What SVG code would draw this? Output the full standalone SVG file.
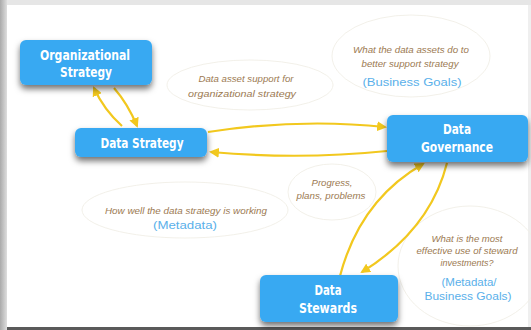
<svg xmlns="http://www.w3.org/2000/svg" width="531" height="330" viewBox="0 0 531 330">
<defs>
<linearGradient id="lg" x1="0" x2="1" y1="0" y2="0"><stop offset="0" stop-color="#aaaaaa"/><stop offset="1" stop-color="#dedede"/></linearGradient>
<filter id="sh" x="-20%" y="-30%" width="140%" height="180%"><feDropShadow dx="0" dy="4" stdDeviation="3" flood-color="#000" flood-opacity="0.55"/></filter>
<marker id="ah" viewBox="0 0 10 10" refX="8" refY="5" markerWidth="4.5" markerHeight="4.5" orient="auto-start-reverse"><path d="M0,0 L10,5 L0,10 Z" fill="#f2c81e"/></marker>
<style>
.box{fill:#38a9f2;filter:url(#sh)}
.bt{fill:#fff;font-family:"DejaVu Sans Condensed","DejaVu Sans",sans-serif;font-weight:bold;font-size:14px;text-anchor:middle}
.lab{fill:#9c7a52;font-family:"Liberation Sans",Arial,sans-serif;font-style:italic;font-size:9.5px;text-anchor:middle}
.blu{fill:#5ab0ea;font-family:"Liberation Sans",Arial,sans-serif;font-size:11.5px;text-anchor:middle}
.ell{fill:none;stroke:#f1eee7;stroke-width:0.9}
.c{fill:none;stroke:#f2c81e;stroke-width:2.2;marker-end:url(#ah)}
</style>
</defs>
<rect width="531" height="330" fill="#ffffff"/>
<rect x="0" y="0" width="531" height="5" fill="#e6e6e6"/>
<rect x="0" y="0" width="7" height="330" fill="url(#lg)"/>
<rect x="7" y="327" width="524" height="3" fill="#5a5a5a"/>
<rect x="528" y="5" width="3" height="322" fill="#efefef"/>

<g id="labels">
<ellipse class="ell" cx="250" cy="85" rx="83" ry="25"/>
<text class="lab" x="246" y="82" textLength="95" lengthAdjust="spacingAndGlyphs">Data asset support for</text>
<text class="lab" x="242" y="97" textLength="108" lengthAdjust="spacingAndGlyphs">organizational strategy</text>
<ellipse class="ell" cx="411" cy="56" rx="79" ry="41"/>
<text class="lab" x="411" y="53" textLength="116" lengthAdjust="spacingAndGlyphs">What the data assets do to</text>
<text class="lab" x="410" y="67" textLength="97" lengthAdjust="spacingAndGlyphs">better support strategy</text>
<text class="blu" x="412" y="86" textLength="99" lengthAdjust="spacingAndGlyphs">(Business Goals)</text>
<ellipse class="ell" cx="185" cy="210" rx="103" ry="28"/>
<text class="lab" x="186" y="214" textLength="162" lengthAdjust="spacingAndGlyphs">How well the data strategy is working</text>
<text class="blu" x="185" y="229" textLength="64" lengthAdjust="spacingAndGlyphs">(Metadata)</text>
<ellipse class="ell" cx="332" cy="192" rx="44" ry="28"/>
<text class="lab" x="332" y="186" textLength="41" lengthAdjust="spacingAndGlyphs">Progress,</text>
<text class="lab" x="331" y="199" textLength="69" lengthAdjust="spacingAndGlyphs">plans, problems</text>
<ellipse class="ell" cx="470" cy="266" rx="72" ry="60"/>
<text class="lab" x="467" y="242" textLength="71" lengthAdjust="spacingAndGlyphs">What is the most</text>
<text class="lab" x="467" y="254" textLength="101" lengthAdjust="spacingAndGlyphs">effective use of steward</text>
<text class="lab" x="467" y="266" textLength="53" lengthAdjust="spacingAndGlyphs">investments?</text>
<text class="blu" x="469" y="286" textLength="55" lengthAdjust="spacingAndGlyphs">(Metadata/</text>
<text class="blu" x="468" y="300" textLength="87" lengthAdjust="spacingAndGlyphs">Business Goals)</text>
</g>

<g id="connectors">
<path class="c" d="M122,126 Q104,110 94,88"/>
<path class="c" d="M114,88 Q128,104 137,126"/>
<path class="c" d="M208,132 Q300,118 385,127"/>
<path class="c" d="M387,151 Q300,160 211,152"/>
<path class="c" d="M340,276 Q360,200 423,164"/>
<path class="c" d="M447,163 Q430,230 362,272"/>
</g>

<g id="org-strategy">
<rect class="box" x="20" y="40" width="132" height="45" rx="6"/>
<text class="bt" x="85" y="60" textLength="90" lengthAdjust="spacingAndGlyphs">Organizational</text>
<text class="bt" x="86" y="77" textLength="52" lengthAdjust="spacingAndGlyphs">Strategy</text>
</g>
<g id="data-strategy">
<rect class="box" x="75" y="128" width="132" height="29" rx="6"/>
<text class="bt" x="142" y="148" textLength="83" lengthAdjust="spacingAndGlyphs">Data Strategy</text>
</g>
<g id="data-governance">
<rect class="box" x="387" y="115" width="141" height="47" rx="6"/>
<text class="bt" x="457" y="134" textLength="28" lengthAdjust="spacingAndGlyphs">Data</text>
<text class="bt" x="457" y="152" textLength="72" lengthAdjust="spacingAndGlyphs">Governance</text>
</g>
<g id="data-stewards">
<rect class="box" x="260" y="275" width="138" height="47" rx="6"/>
<text class="bt" x="328" y="295" textLength="27" lengthAdjust="spacingAndGlyphs">Data</text>
<text class="bt" x="328" y="313" textLength="58" lengthAdjust="spacingAndGlyphs">Stewards</text>
</g>
</svg>
